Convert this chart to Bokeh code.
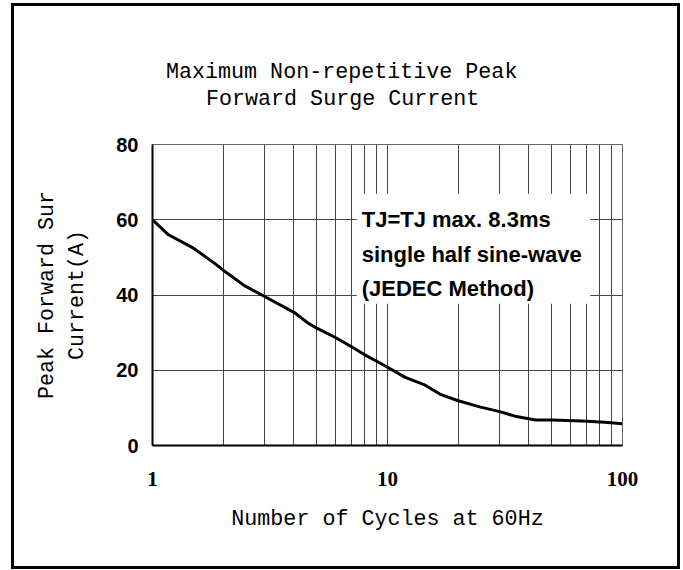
from bokeh.plotting import figure
from bokeh.layouts import column
from bokeh.models import FixedTicker, Label, BoxAnnotation, Range1d, ColumnDataSource, Title
from bokeh.embed import file_html
from bokeh.resources import INLINE

# ---- data ----
cycles = [1, 1.17, 1.48, 1.82, 2, 2.46, 3, 4, 4.6, 5, 6, 7, 8, 9, 10,
          11.9, 14.3, 16.9, 20, 24.9, 30, 34.9, 42.7, 50, 67.4, 84, 100]
current = [60, 56.0, 52.6, 48.6, 46.6, 42.5, 39.6, 35.4, 32.5, 31.2, 28.7, 26.3,
           24.1, 22.4, 20.8, 18.1, 16.2, 13.5, 11.9, 10.2, 9.0, 7.8, 6.8, 6.8,
           6.5, 6.2, 5.8]
x_ticks = [1, 10, 100]
x_tick_labels = ["1", "10", "100"]
x_minor = [2, 3, 4, 5, 6, 7, 8, 9, 20, 30, 40, 50, 60, 70, 80, 90]
y_ticks = [0, 20, 40, 60, 80]
title_lines = ["Maximum Non-repetitive Peak", "Forward Surge Current"]
ylabel_text = "Peak Forward Sur\nCurrent(A)"
xlabel = "Number of Cycles at 60Hz"
note_lines = ["TJ=TJ max. 8.3ms", "single half sine-wave", "(JEDEC Method)"]

MONO = "Liberation Mono"
FS = "21.7px"

p = figure(width=663, height=560, x_axis_type="log",
           x_range=Range1d(1, 100), y_range=Range1d(0, 80),
           output_backend="svg", toolbar_location=None,
           min_border_left=138, min_border_right=55,
           min_border_top=138, min_border_bottom=121)
p.background_fill_color = "white"
p.border_fill_color = "white"
p.outline_line_color = "#666666"
p.outline_line_width = 1

# titles: p.title is the outer line, the added Title sits next to the frame
p.title.text = title_lines[0]
p.title.align = "left"
p.title.offset = 13.5
p.title.standoff = 0
p.title.text_font = MONO
p.title.text_font_size = FS
p.title.text_font_style = "normal"
p.title.text_color = "black"
t2 = Title(text=title_lines[1], align="left", offset=53.5, standoff=0,
           padding=dict(left=0, right=0, top=0, bottom=33),
           text_font=MONO, text_font_size=FS, text_font_style="normal",
           text_color="black")
p.add_layout(t2, "above")

# axes
p.xaxis.ticker = FixedTicker(ticks=x_ticks, minor_ticks=x_minor)
p.xaxis.major_label_overrides = {t: l for t, l in zip(x_ticks, x_tick_labels)}
p.yaxis.ticker = FixedTicker(ticks=y_ticks)
for ax in (p.xaxis[0], p.yaxis[0]):
    ax.axis_line_color = "black"
    ax.axis_line_width = 2
    ax.major_tick_line_color = None
    ax.minor_tick_line_color = None
    ax.major_tick_out = 0
    ax.major_tick_in = 0
    ax.major_label_text_color = "black"
    ax.axis_label_text_color = "black"
    ax.axis_label_text_font = MONO
    ax.axis_label_text_font_size = FS
    ax.axis_label_text_font_style = "normal"
p.xaxis.major_label_text_font = "Liberation Serif"
p.xaxis.major_label_text_font_size = "21px"
p.xaxis.major_label_text_font_style = "bold"
p.xaxis.major_label_standoff = 22
p.xaxis.axis_label = xlabel
p.xaxis.axis_label_standoff = 18
p.yaxis.major_label_text_font = "Liberation Sans"
p.yaxis.major_label_text_font_size = "20px"
p.yaxis.major_label_text_font_style = "bold"
p.yaxis.major_label_standoff = 14
p.yaxis.axis_label = ylabel_text
p.yaxis.axis_label_standoff = 23
p.yaxis.axis_label_text_line_height = 1.22

# grids
for g in (p.xgrid[0], p.ygrid[0]):
    g.grid_line_color = "#444444"
    g.grid_line_width = 1
p.xgrid.minor_grid_line_color = "#444444"
p.xgrid.minor_grid_line_width = 1

# curve
src = ColumnDataSource(dict(x=cycles, y=current))
p.line("x", "y", source=src, line_color="black", line_width=3)

# note box
p.add_layout(BoxAnnotation(left=7.4, right=73, bottom=37.7, top=66.9,
                           fill_color="white", fill_alpha=1, line_color=None))
for txt, yy in zip(note_lines, [60.0, 50.7, 41.7]):
    p.add_layout(Label(x=7.77, y=yy, text=txt, text_font="Liberation Sans",
                       text_font_size="22px", text_font_style="bold",
                       text_color="black", text_baseline="alphabetic",
                       text_align="left"))

lay = column(p, styles={"border": "3px solid black",
                        "margin-left": "11px", "margin-top": "3px"})

open("out.html", "w").write(file_html(lay, INLINE))
